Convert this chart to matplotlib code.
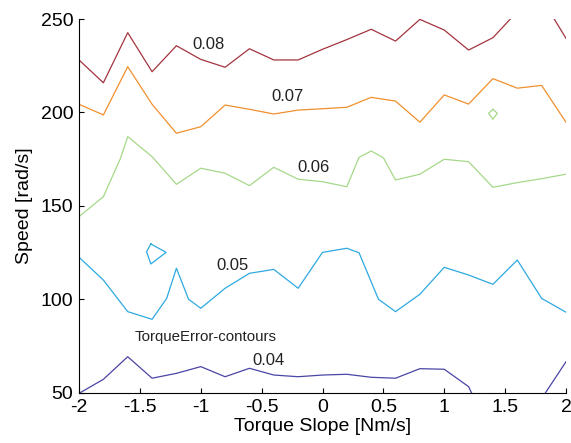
import matplotlib.pyplot as plt

plt.rcParams['font.family'] = ['Liberation Sans', 'DejaVu Sans']

# contour lines (x = torque slope, y = speed)
c08_x = [-2.0, -1.8, -1.6, -1.4, -1.2, -1.0, -0.8, -0.6, -0.4, -0.2, 0.0, 0.2, 0.4, 0.6, 0.8, 1.0, 1.2, 1.4, 1.6, 1.8, 2.0]
c08_y = [228.1, 215.9, 242.7, 221.8, 235.7, 228.4, 224.2, 234.1, 228.1, 228.1, 233.8, 239.0, 244.5, 238.2, 249.8, 244.1, 233.4, 240.0, 254.0, 261.0, 239.7]

c07_x = [-2.0, -1.8, -1.6, -1.4, -1.2, -1.0, -0.8, -0.6, -0.4, -0.2, 0.0, 0.2, 0.4, 0.6, 0.8, 1.0, 1.2, 1.4, 1.6, 1.8, 2.0]
c07_y = [204.4, 198.7, 224.5, 204.4, 188.9, 192.4, 204.0, 201.7, 199.2, 201.3, 202.0, 202.8, 208.1, 206.1, 194.8, 209.4, 204.5, 218.1, 213.0, 214.5, 194.8]

c06_x = [-2.0, -1.8, -1.66, -1.6, -1.4, -1.2, -1.0, -0.8, -0.6, -0.4, -0.2, 0.0, 0.2, 0.3, 0.4, 0.5, 0.6, 0.8, 1.0, 1.2, 1.4, 1.6, 1.8, 2.0]
c06_y = [144.3, 155.0, 175.4, 187.1, 176.4, 161.6, 170.2, 167.5, 160.9, 170.7, 164.3, 163.0, 160.3, 176.0, 179.4, 175.8, 163.9, 167.0, 175.0, 173.7, 160.0, 162.5, 164.6, 167.0]
c06_loop_x = [1.40, 1.436, 1.40, 1.364, 1.40]
c06_loop_y = [201.7, 199.6, 196.4, 199.6, 201.7]

c05_x = [-2.0, -1.8, -1.6, -1.4, -1.28, -1.2, -1.1, -1.0, -0.8, -0.6, -0.4, -0.2, 0.0, 0.2, 0.3, 0.46, 0.6, 0.8, 1.0, 1.2, 1.4, 1.6, 1.8, 2.0]
c05_y = [122.6, 110.4, 93.5, 89.4, 100.6, 116.7, 100.1, 95.3, 106.0, 114.0, 116.1, 106.0, 125.2, 127.4, 125.0, 100.1, 93.5, 102.8, 117.2, 113.1, 108.1, 121.1, 100.6, 93.2]
c05_loop_x = [-1.41, -1.285, -1.41, -1.445, -1.41]
c05_loop_y = [129.7, 125.2, 119.0, 125.5, 129.7]

c04_x = [-2.0, -1.8, -1.6, -1.4, -1.2, -1.0, -0.8, -0.6, -0.4, -0.2, 0.0, 0.2, 0.4, 0.6, 0.8, 1.0, 1.2, 1.4, 1.6, 1.8, 2.0]
c04_y = [49.8, 57.3, 69.4, 57.9, 60.5, 64.1, 58.7, 63.2, 59.6, 58.7, 59.6, 60.0, 58.4, 57.9, 63.0, 62.7, 53.4, 26.0, 30.0, 47.0, 66.7]

levels = ['0.04', '0.05', '0.06', '0.07', '0.08']
label_x = [-0.445, -0.74, -0.07, -0.287, -0.94]
label_y = [67.4, 118.0, 170.6, 208.4, 236.1]

colors = ['#4a45a5', '#2ea9e0', '#a6d889', '#f0902e', '#a3343f']

fig = plt.figure(figsize=(5.71, 4.43), dpi=100)
ax = fig.add_axes([0.1384, 0.1129, 0.8528, 0.8442])

lw = 0.9
ax.plot(c04_x, c04_y, color=colors[0], lw=lw)
ax.plot(c05_x, c05_y, color=colors[1], lw=lw)
ax.plot(c05_loop_x, c05_loop_y, color=colors[1], lw=lw)
ax.plot(c06_x, c06_y, color=colors[2], lw=lw)
ax.plot(c06_loop_x, c06_loop_y, color=colors[2], lw=lw)
ax.plot(c07_x, c07_y, color=colors[3], lw=lw)
ax.plot(c08_x, c08_y, color=colors[4], lw=lw)

for i in range(len(levels)):
    ax.text(label_x[i], label_y[i], levels[i], ha='center', va='center',
            fontsize=12, color='#222222')

ax.text(-0.958, 79.7, 'TorqueError-contours', ha='center', va='center',
        fontsize=10.8, color='#222222')

ax.set_xlim(-2, 2)
ax.set_ylim(50, 250)
ax.set_xticks([-2, -1.5, -1, -0.5, 0, 0.5, 1, 1.5, 2])
ax.set_xticklabels(['-2', '-1.5', '-1', '-0.5', '0', '0.5', '1', '1.5', '2'])
ax.set_yticks([50, 100, 150, 200, 250])
ax.tick_params(direction='in', length=3.6, width=0.8, labelsize=14, pad=4)
ax.spines['top'].set_visible(False)
ax.spines['right'].set_visible(False)
ax.set_xlabel('Torque Slope [Nm/s]', fontsize=14, labelpad=2)
ax.set_ylabel('Speed [rad/s]', fontsize=14, labelpad=6)

fig.savefig('out.png', dpi=100)
